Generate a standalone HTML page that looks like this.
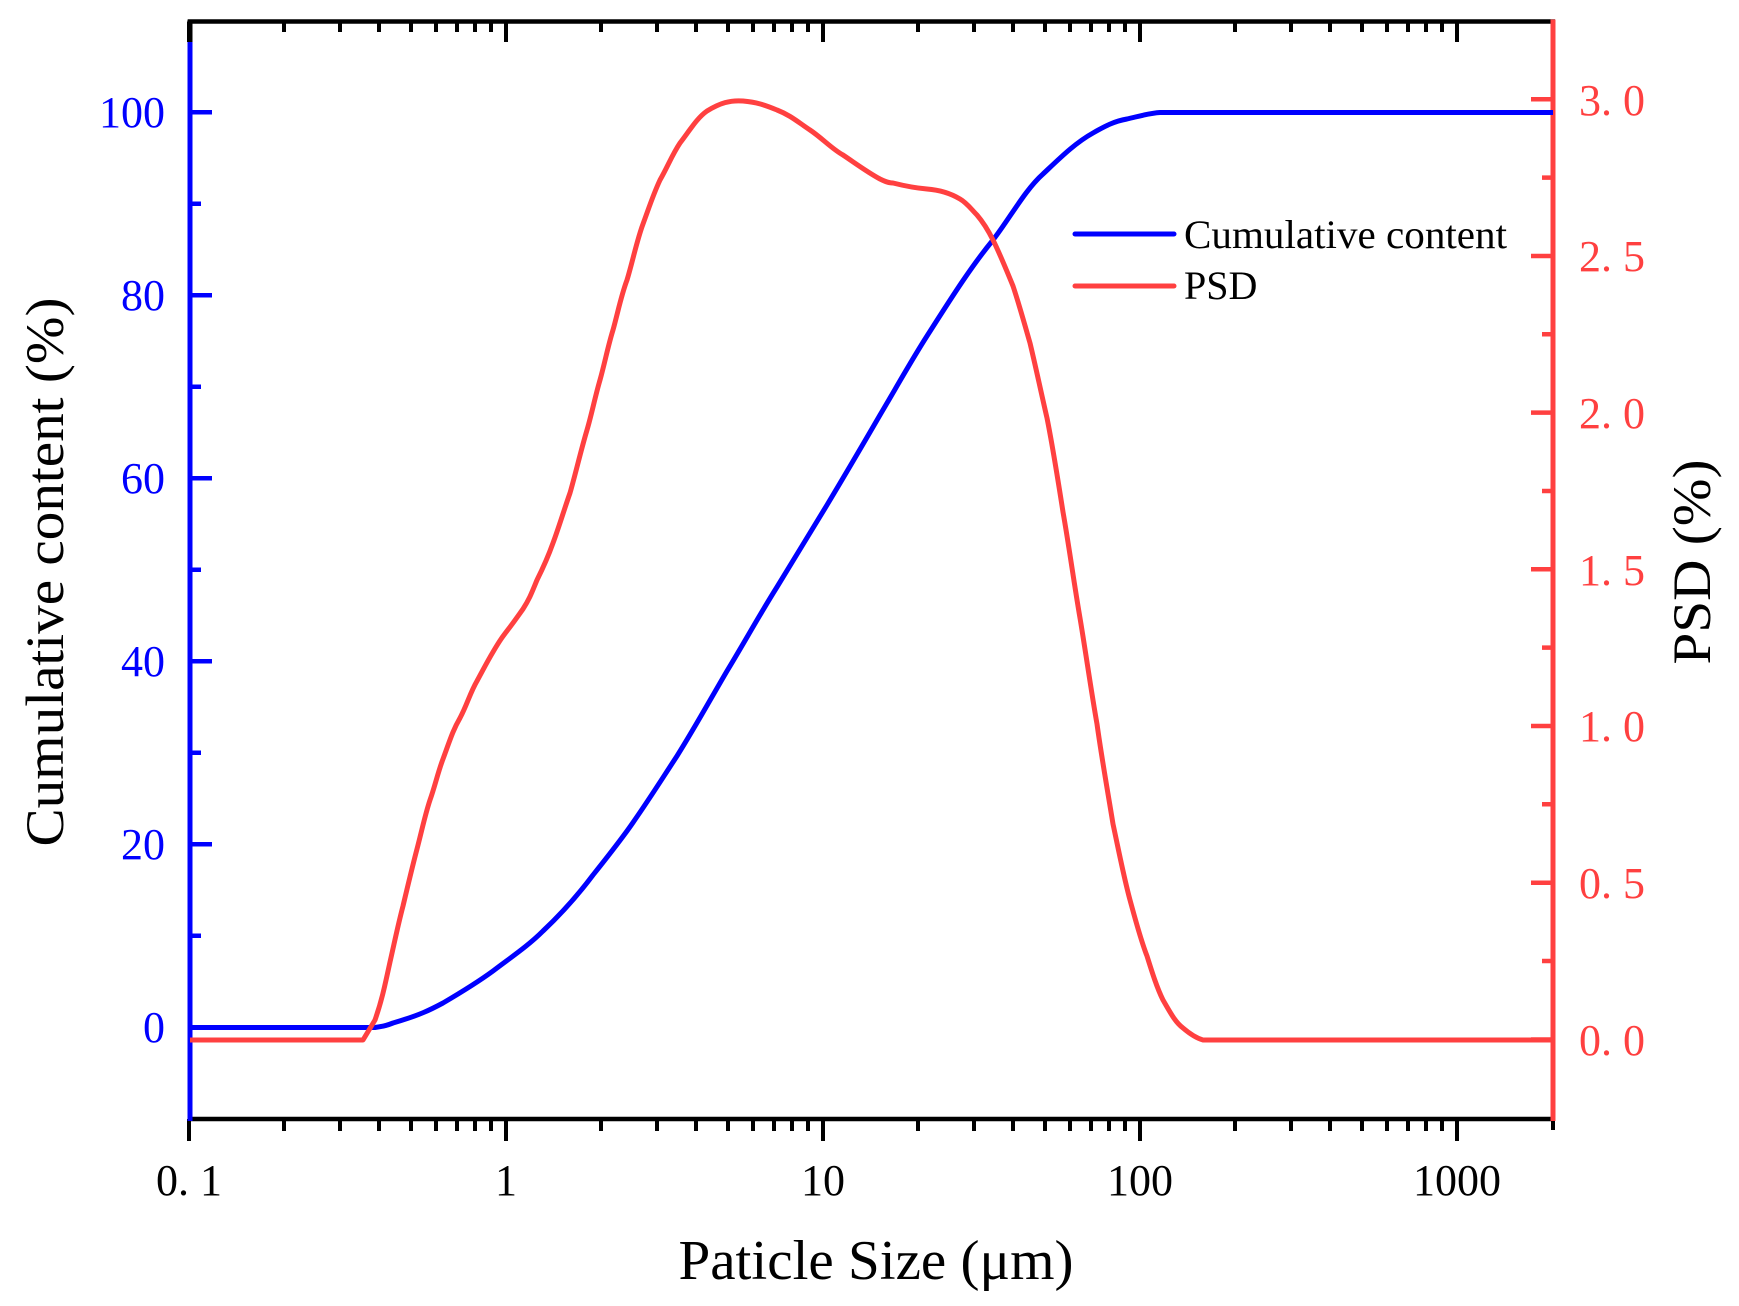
<!DOCTYPE html>
<html><head><meta charset="utf-8"><style>html,body{margin:0;padding:0;background:#fff}svg{display:block}</style></head>
<body>
<svg xmlns="http://www.w3.org/2000/svg" width="1739" height="1306" viewBox="0 0 1739 1306" font-family="'Liberation Serif', serif">
<rect width="1739" height="1306" fill="#fff"/>
<line x1="188" y1="21.5" x2="1555" y2="21.5" stroke="#000" stroke-width="4.5"/>
<line x1="188" y1="1119" x2="1555" y2="1119" stroke="#000" stroke-width="4.5"/>
<g stroke="#000" stroke-width="4">
<path d="M189 1119V1141M506 1119V1141M823 1119V1141M1140 1119V1141M1457 1119V1141M1553 1119V1130
M189 21.5V42M506 21.5V42M823 21.5V42M1140 21.5V42M1457 21.5V42"/>
<path d="M284 1119V1131M340 1119V1131M379 1119V1131M411 1119V1131M436 1119V1131M457 1119V1131M475 1119V1131M491 1119V1131
M601 1119V1131M657 1119V1131M696 1119V1131M728 1119V1131M753 1119V1131M774 1119V1131M792 1119V1131M808 1119V1131
M918 1119V1131M974 1119V1131M1013 1119V1131M1045 1119V1131M1070 1119V1131M1091 1119V1131M1109 1119V1131M1125 1119V1131
M1235 1119V1131M1291 1119V1131M1330 1119V1131M1362 1119V1131M1387 1119V1131M1408 1119V1131M1426 1119V1131M1442 1119V1131
M284 21.5V32M340 21.5V32M379 21.5V32M411 21.5V32M436 21.5V32M457 21.5V32M475 21.5V32M491 21.5V32
M601 21.5V32M657 21.5V32M696 21.5V32M728 21.5V32M753 21.5V32M774 21.5V32M792 21.5V32M808 21.5V32
M918 21.5V32M974 21.5V32M1013 21.5V32M1045 21.5V32M1070 21.5V32M1091 21.5V32M1109 21.5V32M1125 21.5V32
M1235 21.5V32M1291 21.5V32M1330 21.5V32M1362 21.5V32M1387 21.5V32M1408 21.5V32M1426 21.5V32M1442 21.5V32"/>
</g>
<line x1="190" y1="42" x2="190" y2="1121" stroke="#0000ff" stroke-width="5"/>
<line x1="190" y1="19.5" x2="190" y2="42" stroke="#000" stroke-width="5"/>
<g stroke="#0000ff" stroke-width="4.5">
<path d="M190 112.3H212M190 295.3H212M190 478.3H212M190 661.3H212M190 844.3H212M190 1027.5H212"/>
<path d="M190 203.8H201M190 386.8H201M190 569.8H201M190 752.8H201M190 935.8H201"/>
</g>
<g fill="#0000ff" font-size="44" text-anchor="end">
<text x="165" y="127">100</text><text x="165" y="310">80</text><text x="165" y="493">60</text>
<text x="165" y="676">40</text><text x="165" y="859">20</text><text x="165" y="1042">0</text>
</g>
<line x1="1553" y1="19.5" x2="1553" y2="1121" stroke="#ff4040" stroke-width="5"/>
<g stroke="#ff4040" stroke-width="4.5">
<path d="M1553 99.3H1531M1553 256H1531M1553 412.6H1531M1553 569.3H1531M1553 726H1531M1553 882.7H1531M1553 1039.5H1531"/>
<path d="M1553 177.6H1542M1553 334.3H1542M1553 491H1542M1553 647.6H1542M1553 804.3H1542M1553 961H1542"/>
</g>
<g fill="#ff4040" font-size="44">
<text x="1579" y="115">3. 0</text><text x="1579" y="271">2. 5</text><text x="1579" y="428">2. 0</text>
<text x="1579" y="585">1. 5</text><text x="1579" y="741">1. 0</text><text x="1579" y="898">0. 5</text><text x="1579" y="1055">0. 0</text>
</g>
<g fill="#000" font-size="44" text-anchor="middle">
<text x="189" y="1195">0. 1</text><text x="506" y="1195">1</text><text x="823" y="1195">10</text>
<text x="1140" y="1195">100</text><text x="1457" y="1195">1000</text>
</g>
<text x="876" y="1279" font-size="56" text-anchor="middle" textLength="395" lengthAdjust="spacingAndGlyphs">Paticle Size (μm)</text>
<text transform="translate(63,572) rotate(-90)" font-size="54" text-anchor="middle" textLength="549" lengthAdjust="spacingAndGlyphs">Cumulative content (%)</text>
<text transform="translate(1710,562) rotate(-90)" font-size="54" text-anchor="middle" textLength="205" lengthAdjust="spacingAndGlyphs">PSD (%)</text>
<path fill="none" stroke="#0000ff" stroke-width="5" stroke-linejoin="round" d="M190 1027.5 L375 1027.5 C385 1026 388 1025 393 1023 C420 1015 430 1010 443 1003 C460 993 478 982 493 971 C510 958 528 946 543 931 C560 915 578 895 593 875 C605 860 616 846 627 831 C645 806 660 782 677 756 C694 729 710 700 727 671 C744 643 760 614 777 587 C794 559 810 533 827 505 C845 475 862 446 880 415 C896 388 911 361 927 336 C950 300 970 268 993 240 C1010 218 1025 190 1043 174 C1060 158 1075 143 1093 133 C1105 126 1115 121 1127 119 C1140 116 1150 113 1160 112.5 L1553 112.5"/>
<path fill="none" stroke="#ff4040" stroke-width="5" stroke-linejoin="round" d="M190 1040 L363 1040 L375 1020 C382 1000 385 985 390 962 C395 940 398 925 403 906 C408 885 412 868 417 849 C422 830 425 815 430 800 C435 786 438 772 443 759 C450 740 453 730 460 718 C467 705 470 693 477 681 C483 670 487 662 493 652 C500 640 503 636 510 627 C516 619 518 616 523 609 C530 598 532 592 537 580 C543 568 548 557 553 543 C559 527 564 510 570 493 C576 472 581 450 587 430 C592 413 595 397 600 380 C605 362 608 346 613 330 C618 312 621 296 627 280 C633 260 637 240 643 224 C650 205 653 195 660 180 C668 166 672 155 680 143 C690 130 697 118 707 111 C720 103 730 100 743 101 C756 102 765 105 777 110 C790 115 798 122 810 130 C822 138 832 149 843 155 C855 163 867 172 880 179 C886 182 889 183 893 183 C905 186 915 188 927 189 C940 190 950 193 960 199 C967 203 971 209 977 215 C983 222 988 230 993 240 C1000 254 1006 269 1013 286 C1019 304 1024 322 1030 343 C1036 368 1041 392 1047 418 C1053 448 1058 480 1063 512 C1069 546 1074 583 1080 618 C1086 654 1091 690 1097 724 C1102 760 1108 793 1113 824 C1119 852 1124 878 1130 900 C1136 922 1141 941 1147 956 C1152 972 1157 988 1163 1000 C1170 1012 1175 1022 1183 1028 C1190 1034 1196 1038 1203 1040 L1553 1040"/>
<line x1="1075" y1="234" x2="1174" y2="234" stroke="#0000ff" stroke-width="5" stroke-linecap="round"/>
<line x1="1075" y1="286" x2="1174" y2="286" stroke="#ff4040" stroke-width="5" stroke-linecap="round"/>
<text x="1184" y="248" font-size="40" textLength="323" lengthAdjust="spacingAndGlyphs">Cumulative content</text>
<text x="1184" y="299" font-size="40">PSD</text>
</svg>
</body></html>
